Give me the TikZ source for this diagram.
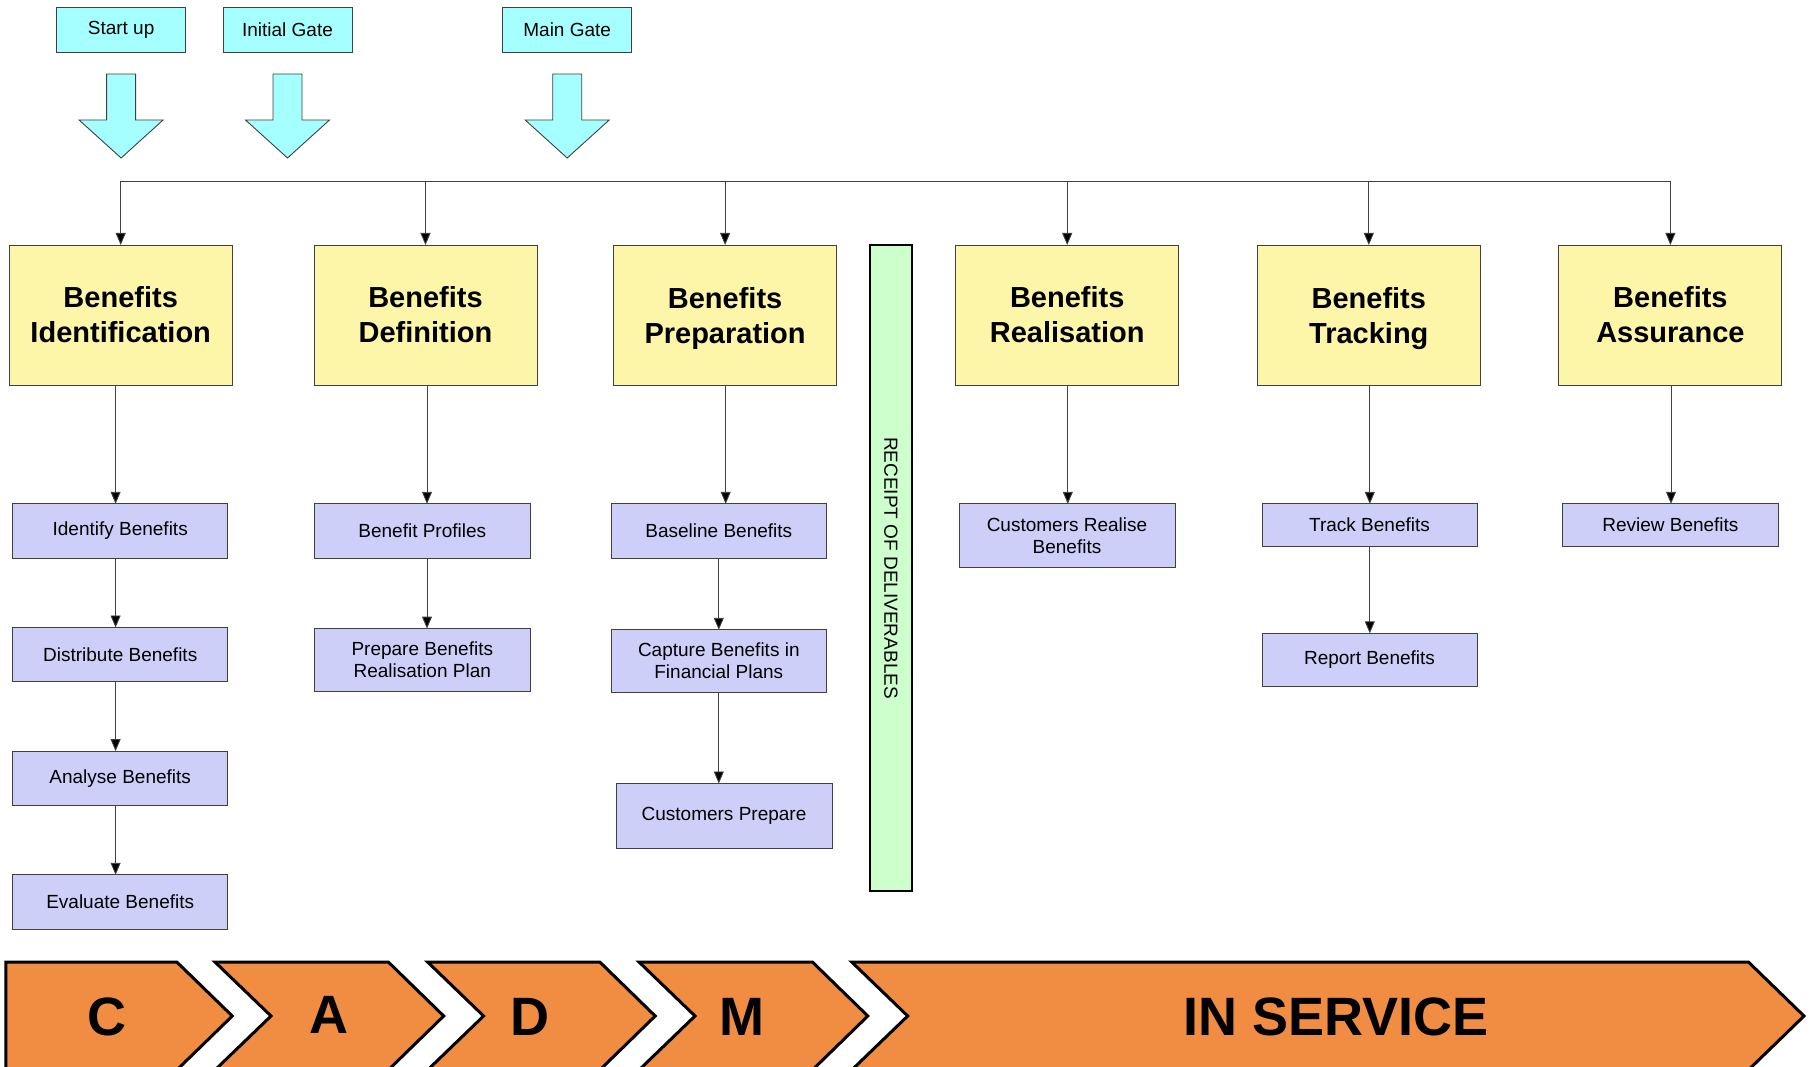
\documentclass[tikz,border=0pt]{standalone}
\usepackage{fontspec}
\setmainfont{Liberation Sans}
\usetikzlibrary{arrows.meta}
\definecolor{gatecol}{HTML}{A6FFFF}
\definecolor{ycol}{HTML}{FDF6A9}
\definecolor{bcol}{HTML}{CDCFF8}
\definecolor{gcol}{HTML}{CCFFCC}
\definecolor{ocol}{HTML}{F18D43}
\definecolor{edgecol}{HTML}{404040}
\newcommand{\nodepth}[1]{\raisebox{0pt}[\height][0pt]{#1}}
\begin{document}
\begin{tikzpicture}[x=1pt,y=-1pt,
  gate/.style={draw=edgecol, fill=gatecol, line width=0.9pt, minimum width=129pt, minimum height=45pt,
    inner sep=0pt, outer sep=0pt, anchor=north west, font=\fontsize{19}{22}\selectfont},
  garrow/.style={draw=edgecol, fill=gatecol, line width=0.9pt, line join=miter},
  ybox/.style={draw=edgecol, fill=ycol, line width=0.9pt, minimum width=223pt, minimum height=140pt,
    inner sep=0pt, outer sep=0pt, anchor=north west, align=center, font=\fontsize{29}{35}\selectfont\bfseries},
  bbox/.style={draw=edgecol, fill=bcol, line width=0.9pt, minimum width=215pt,
    inner sep=0pt, outer sep=0pt, anchor=north west, align=center, font=\fontsize{19}{22}\selectfont},
  arr/.style={draw=edgecol, line width=0.9pt, -{Triangle[length=12pt,width=10pt,fill=black]}},
  chev/.style={draw=black, fill=ocol, line width=3pt, line join=miter},
  chevtext/.style={font=\fontsize{54}{60}\selectfont\bfseries, inner sep=0pt}
]
\useasboundingbox (0,0) rectangle (1812,1067);

% gates
\node[gate] (g1) at (56.6,7) {Start up};
\node[gate] (g2) at (223,7) {Initial Gate};
\node[gate] (g3) at (502.7,7) {Main Gate};
\foreach \g in {g1,g2,g3}{
  \draw[garrow] (\g.south) ++(-14.5,22) -- ++(29,0) -- ++(0,46) -- ++(27.5,0) -- ++(-42,38) -- ++(-42,-38) -- ++(27.5,0) -- cycle;
}

% main stage boxes
\node[ybox] (yi) at (9.2,245) {Benefits\\Identification};
\node[ybox] (yd) at (314,245) {Benefits\\Definition};
\node[ybox] (yp) at (613.6,245) {Benefits\\\nodepth{Preparation}};
\node[ybox] (yr) at (955.7,245) {Benefits\\Realisation};
\node[ybox] (yt) at (1257.3,245) {Benefits\\\nodepth{Tracking}};
\node[ybox] (ya) at (1558.9,245) {Benefits\\Assurance};

% receipt bar
\node[draw=black, fill=gcol, line width=1.5pt, rotate=-90, minimum width=646pt, minimum height=42pt,
  inner sep=0pt, font=\fontsize{19}{22}\selectfont] (rd) at (891,568) {RECEIPT OF DELIVERABLES};

% bus
\coordinate (bus) at (0,181.4);
\draw[draw=edgecol, line width=0.9pt] (yi.north |- bus) -- (ya.north |- bus);
\foreach \y in {yi,yd,yp,yr,yt,ya}{
  \draw[arr] (\y.north |- bus) -- (\y.north);
}

% sub-activity boxes
\node[bbox, minimum height=54.4pt] (bi1) at (12.7,503.8) {Identify Benefits};
\node[bbox, minimum height=54.3pt] (bi2) at (12.7,627.5) {Distribute Benefits};
\node[bbox, minimum height=54.4pt] (bi3) at (12.7,751.1) {Analyse Benefits};
\node[bbox, minimum height=54.3pt] (bi4) at (12.7,874.8) {Evaluate Benefits};
\node[bbox, minimum width=216pt, minimum height=54.4pt] (bd1) at (314.3,503.8) {Benefit Profiles};
\node[bbox, minimum width=216pt, minimum height=62.4pt] (bd2) at (314.3,628.6) {Prepare Benefits\\Realisation Plan};
\node[bbox, minimum height=54.4pt] (bp1) at (611.3,503.8) {Baseline Benefits};
\node[bbox, minimum height=62.4pt] (bp2) at (611.3,629.8) {Capture Benefits in\\Financial Plans};
\node[bbox, minimum width=216pt, minimum height=64.7pt] (bp3) at (616,783.5) {Customers Prepare};
\node[bbox, minimum width=216pt, minimum height=63.6pt] (br1) at (959,503.8) {Customers Realise\\Benefits};
\node[bbox, minimum height=42.8pt] (bt1) at (1262,503.8) {Track Benefits};
\node[bbox, minimum height=53.1pt] (bt2) at (1262,633.3) {Report Benefits};
\node[bbox, minimum width=216pt, minimum height=42.8pt] (ba1) at (1562.4,503.8) {Review Benefits};

% column coordinates
\coordinate (ci) at (115.6,0);
\coordinate (cd) at (427,0);
\coordinate (cp) at (725.7,0);
\coordinate (cq) at (718.8,0);
\coordinate (cr) at (1067.8,0);
\coordinate (ct) at (1369.8,0);
\coordinate (ca) at (1671,0);

\draw[arr] (yi.south -| ci) -- (bi1.north -| ci);
\draw[arr] (bi1.south -| ci) -- (bi2.north -| ci);
\draw[arr] (bi2.south -| ci) -- (bi3.north -| ci);
\draw[arr] (bi3.south -| ci) -- (bi4.north -| ci);
\draw[arr] (yd.south -| cd) -- (bd1.north -| cd);
\draw[arr] (bd1.south -| cd) -- (bd2.north -| cd);
\draw[arr] (yp.south -| cp) -- (bp1.north -| cp);
\draw[arr] (bp1.south -| cq) -- (bp2.north -| cq);
\draw[arr] (bp2.south -| cq) -- (bp3.north -| cq);
\draw[arr] (yr.south -| cr) -- (br1.north -| cr);
\draw[arr] (yt.south -| ct) -- (bt1.north -| ct);
\draw[arr] (bt1.south -| ct) -- (bt2.north -| ct);
\draw[arr] (ya.south -| ca) -- (ba1.north -| ca);

% phase chevrons
\draw[chev] (5.8,962) -- (176.8,962) -- (232.3,1016) -- (176.8,1070) -- (5.8,1070) -- cycle;
\draw[chev] (215,962) -- (388.3,962) -- (443.7,1016) -- (388.3,1070) -- (215,1070) -- (271,1016) -- cycle;
\draw[chev] (427.6,962) -- (599.8,962) -- (655.2,1016) -- (599.8,1070) -- (427.6,1070) -- (483.6,1016) -- cycle;
\draw[chev] (639,962) -- (812.4,962) -- (867.8,1016) -- (812.4,1070) -- (639,1070) -- (695,1016) -- cycle;
\draw[chev] (851.7,962) -- (1748.4,962) -- (1804,1016) -- (1748.4,1070) -- (851.7,1070) -- (907.7,1016) -- cycle;
\node[chevtext] (pc) at (107,1017) {C};
\node[chevtext] (pa) at (329,1015) {A};
\node[chevtext] (pd) at (530,1017) {D};
\node[chevtext] (pm) at (742,1017) {M};
\node[chevtext] (ps) at (1336,1017) {IN SERVICE};
\end{tikzpicture}
\end{document}
